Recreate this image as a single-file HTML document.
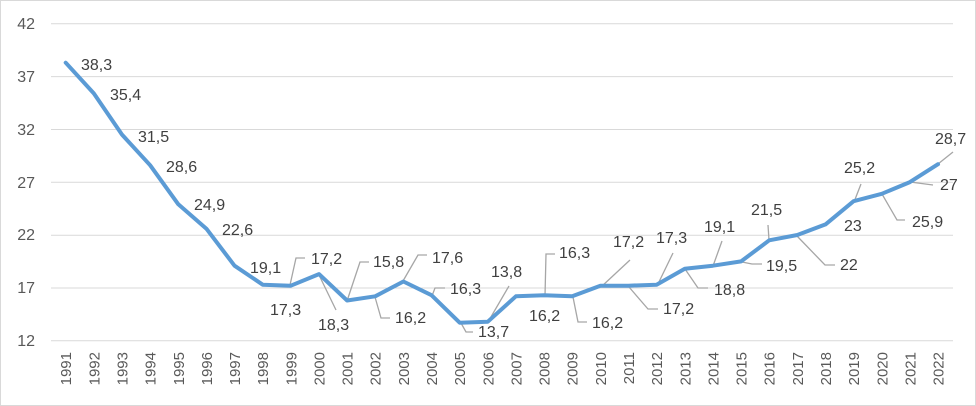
<!DOCTYPE html>
<html><head><meta charset="utf-8"><style>body{margin:0;background:#fff}svg{display:block}</style></head><body>
<svg width="976" height="406" xmlns="http://www.w3.org/2000/svg" font-family="Liberation Sans, sans-serif">
<rect x="0.5" y="0.5" width="975" height="405" fill="#fff" stroke="#d9d9d9"/>
<g stroke="#d9d9d9" stroke-width="1">
<line x1="51" x2="953" y1="23.7" y2="23.7"/><line x1="51" x2="953" y1="76.6" y2="76.6"/><line x1="51" x2="953" y1="129.5" y2="129.5"/><line x1="51" x2="953" y1="182.3" y2="182.3"/><line x1="51" x2="953" y1="235.2" y2="235.2"/><line x1="51" x2="953" y1="288" y2="288"/><line x1="51" x2="953" y1="340.7" y2="340.7"/>
</g>
<g font-size="16" fill="#595959" text-anchor="end">
<text x="35" y="29">42</text><text x="35" y="82">37</text><text x="35" y="135">32</text><text x="35" y="188">27</text><text x="35" y="240">22</text><text x="35" y="293">17</text><text x="35" y="346">12</text>
</g>
<g font-size="15" fill="#595959" text-anchor="end">
<text transform="translate(71.2,352) rotate(-90)">1991</text>
<text transform="translate(99.3,352) rotate(-90)">1992</text>
<text transform="translate(127.5,352) rotate(-90)">1993</text>
<text transform="translate(155.6,352) rotate(-90)">1994</text>
<text transform="translate(183.8,352) rotate(-90)">1995</text>
<text transform="translate(211.9,352) rotate(-90)">1996</text>
<text transform="translate(240.0,352) rotate(-90)">1997</text>
<text transform="translate(268.2,352) rotate(-90)">1998</text>
<text transform="translate(296.3,352) rotate(-90)">1999</text>
<text transform="translate(324.5,352) rotate(-90)">2000</text>
<text transform="translate(352.6,352) rotate(-90)">2001</text>
<text transform="translate(380.7,352) rotate(-90)">2002</text>
<text transform="translate(408.9,352) rotate(-90)">2003</text>
<text transform="translate(437.0,352) rotate(-90)">2004</text>
<text transform="translate(465.2,352) rotate(-90)">2005</text>
<text transform="translate(493.3,352) rotate(-90)">2006</text>
<text transform="translate(521.4,352) rotate(-90)">2007</text>
<text transform="translate(549.6,352) rotate(-90)">2008</text>
<text transform="translate(577.7,352) rotate(-90)">2009</text>
<text transform="translate(605.9,352) rotate(-90)">2010</text>
<text transform="translate(634.0,352) rotate(-90)">2011</text>
<text transform="translate(662.1,352) rotate(-90)">2012</text>
<text transform="translate(690.3,352) rotate(-90)">2013</text>
<text transform="translate(718.4,352) rotate(-90)">2014</text>
<text transform="translate(746.6,352) rotate(-90)">2015</text>
<text transform="translate(774.7,352) rotate(-90)">2016</text>
<text transform="translate(802.8,352) rotate(-90)">2017</text>
<text transform="translate(831.0,352) rotate(-90)">2018</text>
<text transform="translate(859.1,352) rotate(-90)">2019</text>
<text transform="translate(887.3,352) rotate(-90)">2020</text>
<text transform="translate(915.4,352) rotate(-90)">2021</text>
<text transform="translate(943.5,352) rotate(-90)">2022</text>
</g>
<g stroke="#a6a6a6" stroke-width="1.3" fill="none">
<polyline points="290,285 296,258 305,258"/><polyline points="319,275 336,310"/><polyline points="347,301 360,262 369,262"/><polyline points="375,297 381,318 390,318"/><polyline points="403,281 418,255 427,255"/><polyline points="432,296 435,288 445,288"/><polyline points="461,323 466,332 473,332"/><polyline points="488,322 509,286"/><polyline points="545,296 546,254 555,254"/><polyline points="573,297 578,322 587,322"/><polyline points="601,287 630,260"/><polyline points="629,287 648,309 658,309"/><polyline points="657,286 673,253"/><polyline points="685,269 698,288 708,288"/><polyline points="713,266 722,241"/><polyline points="742,262 752,264 762,264"/><polyline points="769,240 768,225"/><polyline points="797,236 825,265 835,265"/><polyline points="854,202 861,184"/><polyline points="882,194 897,220 905,220"/><polyline points="910,182 933,185"/><polyline points="938,164 953,152"/>
</g>
<polyline fill="none" stroke="#5b9bd5" stroke-width="4" stroke-linejoin="round" stroke-linecap="round" points="65.7,62.7 93.8,93.4 122.0,134.6 150.1,165.2 178.3,204.3 206.4,228.7 234.5,265.7 262.7,284.7 290.8,285.7 319.0,274.1 347.1,300.5 375.2,296.3 403.4,281.5 431.5,295.2 459.7,322.7 487.8,321.7 515.9,296.3 544.1,295.2 572.2,296.3 600.4,285.7 628.5,285.7 656.6,284.7 684.8,268.8 712.9,265.7 741.1,261.4 769.2,240.3 797.3,235.0 825.5,224.4 853.6,201.2 881.8,193.8 909.9,182.1 938.0,164.2"/>
<g font-size="16" fill="#404040">
<text x="81" y="70">38,3</text><text x="110" y="100">35,4</text><text x="138" y="142">31,5</text><text x="166" y="172">28,6</text><text x="194" y="210">24,9</text><text x="222" y="235">22,6</text><text x="250" y="273">19,1</text><text x="270" y="315">17,3</text><text x="311" y="264">17,2</text><text x="318" y="330">18,3</text><text x="373" y="267">15,8</text><text x="395" y="323">16,2</text><text x="432" y="263">17,6</text><text x="450" y="294">16,3</text><text x="478" y="337">13,7</text><text x="491" y="277">13,8</text><text x="529" y="321">16,2</text><text x="559" y="258">16,3</text><text x="592" y="328">16,2</text><text x="613" y="247">17,2</text><text x="663" y="314">17,2</text><text x="656" y="243">17,3</text><text x="714" y="295">18,8</text><text x="704" y="232">19,1</text><text x="766" y="271">19,5</text><text x="751" y="215">21,5</text><text x="840" y="270">22</text><text x="844" y="231">23</text><text x="844" y="173">25,2</text><text x="912" y="227">25,9</text><text x="940" y="190">27</text><text x="935" y="144">28,7</text>
</g>
</svg>
</body></html>
